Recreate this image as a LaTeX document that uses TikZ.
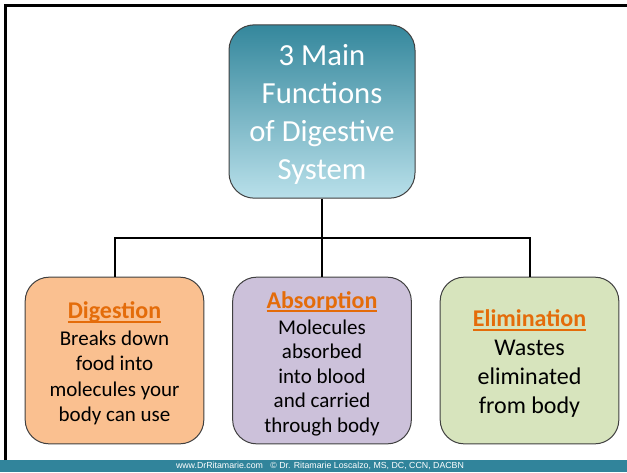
\documentclass[tikz,border=0pt]{standalone}
\usepackage{fontspec}
\setmainfont{Carlito}
\newfontfamily\footfont{Liberation Sans}
\definecolor{tealbar}{HTML}{31849B}
\definecolor{topdark}{HTML}{34879C}
\definecolor{toplight}{HTML}{B9E0EA}
\definecolor{digestfill}{HTML}{FAC090}
\definecolor{absorbfill}{HTML}{CCC1DA}
\definecolor{elimfill}{HTML}{D7E4BD}
\definecolor{headorange}{HTML}{E46C0A}
\definecolor{boxline}{HTML}{404040}
\newcommand{\boxhead}[1]{{\color{headorange}\bfseries\fontsize{18}{21}\selectfont
    \setbox0\hbox{#1}\rlap{\copy0}\raisebox{-3.2pt}{\color{headorange}\rule{\wd0}{1.5pt}}}}

\begin{document}
\begin{tikzpicture}[x=0.75pt, y=-0.75pt, every node/.style = {align=center},
    box/.style = {draw=boxline, line width=0.75pt, rounded corners=18pt, minimum width=134pt, minimum height=125pt},
    boxtext/.style = {yshift=-2.3pt},
    link/.style = {line width=1.5pt}]
\useasboundingbox (0,0) rectangle (627,472);
\fill[tealbar] (0,460) rectangle (627,472);
\draw[line width=2pt] (5.5,460) -- (5.5,5.5) -- (627,5.5);
\node[text=white, font=\footfont\fontsize{6.6}{7}\selectfont] (credit) at (320,466)
    {www.DrRitamarie.com \ \ © Dr. Ritamarie Loscalzo, MS, DC, CCN, DACBN};

\node[box, top color=topdark, bottom color=toplight, minimum width=139.5pt, minimum height=130pt, rounded corners=19pt]
    (functions) at (322,111.5) {};
\node[boxtext, text=white, font=\fontsize{23}{28.5}\selectfont] (functionstext) at (functions.center)
    {3 Main\\ Functions\\ of Digestive\\ System};

\node[box, fill=digestfill] (digestion) at (114.5,360.5) {};
\node[boxtext, font=\fontsize{15.75}{19}\selectfont] (digestiontext) at (digestion.center)
    {\boxhead{Digestion}\\[1pt] Breaks down\\ food into\\ molecules your\\ body can use};
\node[box, fill=absorbfill] (absorption) at (322,360.5) {};
\node[boxtext, font=\fontsize{15.75}{18.4}\selectfont] (absorptiontext) at (absorption.center)
    {\boxhead{Absorption}\\[1pt] Molecules\\ absorbed\\ into blood\\ and carried\\ through body};
\node[box, fill=elimfill] (elimination) at (529.5,360.5) {};
\node[boxtext, font=\fontsize{18}{21.75}\selectfont] (eliminationtext) at (elimination.center)
    {\boxhead{Elimination}\\ Wastes\\ eliminated\\ from body};

\coordinate (fork) at (322,237.5);
\draw[link, line width=2.2pt] (functions.south) -- (absorption.north);
\draw[link] (digestion.north) |- (fork) -| (elimination.north);
\end{tikzpicture}
\end{document}
